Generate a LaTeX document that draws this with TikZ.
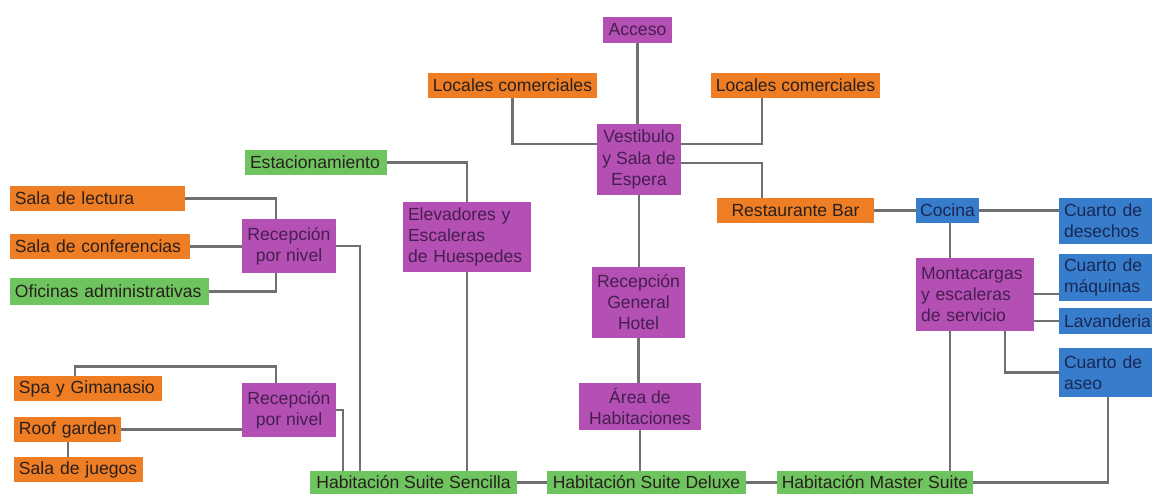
\documentclass[tikz,border=0pt]{standalone}
\usepackage{fontspec}
\setmainfont{Liberation Sans}
\definecolor{cor}{RGB}{238,125,35}
\definecolor{cpu}{RGB}{180,80,180}
\definecolor{cgr}{RGB}{110,196,94}
\definecolor{cbl}{RGB}{55,125,203}
\definecolor{lc}{RGB}{112,112,112}
\definecolor{tdark}{RGB}{40,32,30}
\definecolor{tpu}{RGB}{70,30,80}
\definecolor{tbl}{RGB}{25,40,85}
\newcommand\bx[7]{%
  \pgfmathsetlengthmacro\bxw{(#4-#2)*0.02cm}%
  \pgfmathsetlengthmacro\bxh{(#5-#3)*0.02cm}%
  \node[#6, align=center, minimum width=\bxw, minimum height=\bxh] (#1) at ({(#2+#4)/2},{(#3+#5)/2}) {#7};}
\newcommand\lbx[7]{%
  \pgfmathsetlengthmacro\bxw{(#4-#2)*0.02cm-0.2cm}%
  \pgfmathsetlengthmacro\bxh{(#5-#3)*0.02cm}%
  \node[#6, align=left, inner xsep=0.1cm, text width=\bxw, minimum height=\bxh] (#1) at ({(#2+#4)/2},{(#3+#5)/2}) {#7};}
\begin{document}
\begin{tikzpicture}[x=0.02cm,y=-0.02cm,
  box/.style={inner sep=0pt, font=\fontsize{10}{12}\selectfont},
  orb/.style={box, fill=cor, text=tdark},
  pub/.style={box, fill=cpu, text=tpu},
  grb/.style={box, fill=cgr, text=tdark},
  blb/.style={box, fill=cbl, text=tbl},
  conn/.style={draw=lc, line width=1.4pt}]
\fill[white] (0,0) rectangle (1152,495);
\useasboundingbox (0,0) rectangle (1152,495);
% nodes
\bx{acc}{603}{17}{672}{43}{pub}{Acceso}
\bx{locL}{428}{73}{597}{98}{orb}{Locales comerciales}
\bx{locR}{711}{73}{880}{98}{orb}{Locales comerciales}
\bx{vest}{597}{124}{681}{195}{pub}{Vestibulo\\y Sala de\\Espera}
\lbx{est}{245}{150}{387}{175}{grb}{\mbox{Estacionamiento}}
\lbx{elev}{403}{202}{531}{272}{pub}{Elevadores y\\Escaleras\\de Huespedes}
\bx{recgen}{592}{267}{685}{338}{pub}{Recepción\\General\\Hotel}
\bx{area}{579}{383}{701}{430}{pub}{Área de\\Habitaciones}
\bx{senc}{310}{471}{517}{494}{grb}{Habitación Suite Sencilla}
\bx{delx}{547}{471}{746}{494}{grb}{Habitación Suite Deluxe}
\bx{mast}{777}{471}{973}{494}{grb}{Habitación Master Suite}
\bx{rest}{717}{198}{874}{223}{orb}{Restaurante Bar}
\bx{coc}{916}{198}{979}{223}{blb}{Cocina}
\lbx{des}{1059}{198}{1152}{244}{blb}{Cuarto de\\desechos}
\lbx{maq}{1059}{254}{1152}{301}{blb}{Cuarto de\\máquinas}
\lbx{lav}{1059}{308}{1152}{334}{blb}{\mbox{Lavanderia}}
\lbx{aseo}{1059}{348}{1152}{397}{blb}{Cuarto de\\aseo}
\lbx{mont}{916}{258}{1034}{331}{pub}{Montacargas\\y escaleras\\de servicio}
\lbx{lect}{10}{186}{185}{211}{orb}{\mbox{Sala de lectura}}
\lbx{conf}{10}{234}{190}{259}{orb}{\mbox{Sala de conferencias}}
\lbx{ofi}{10}{278}{209}{305}{grb}{\mbox{Oficinas administrativas}}
\bx{recA}{242}{219}{336}{273}{pub}{Recepción\\por nivel}
\lbx{spa}{14}{376}{162}{401}{orb}{\mbox{Spa y Gimanasio}}
\lbx{roof}{14}{417}{121}{442}{orb}{\mbox{Roof garden}}
\lbx{jueg}{14}{457}{143}{482}{orb}{\mbox{Sala de juegos}}
\bx{recB}{242}{383}{336}{437}{pub}{Recepción\\por nivel}
% connectors
\draw[conn] (acc.south) -- (acc.south |- vest.north);
\draw[conn] (locL.south) |- (vest.west |- 0,144);
\draw[conn] (locR.south -| 762,0) |- (vest.east |- 0,144);
\draw[conn] (vest.east |- 0,163) -| (rest.north -| 762,0);
\draw[conn] (est.east) -| (elev.north);
\draw[conn] (elev.south) -- (elev.south |- senc.north);
\draw[conn] (vest.south) -- (vest.south |- recgen.north);
\draw[conn] (recgen.south) -- (recgen.south |- area.north);
\draw[conn] (area.south) -- (area.south |- delx.north);
\draw[conn] (senc.east) -- (delx.west);
\draw[conn] (delx.east) -- (mast.west);
\draw[conn] (rest.east) -- (coc.west);
\draw[conn] (coc.east) -- (coc.east -| des.west);
\draw[conn] (coc.south -| 950,0) -- (mont.north -| 950,0);
\draw[conn] (mont.east |- 0,294) -- (maq.west |- 0,294);
\draw[conn] (mont.east |- lav.west) -- (lav.west);
\draw[conn] (mont.south -| 1005,0) |- (aseo.west);
\draw[conn] (mont.south -| 950,0) -- (mast.north -| 950,0);
\draw[conn] (mast.east) -| (aseo.south -| 1108,0);
\draw[conn] (lect.east) -| (recA.north -| 276,0);
\draw[conn] (conf.east) -- (conf.east -| recA.west);
\draw[conn] (ofi.east) -| (recA.south -| 276,0);
\draw[conn] (recA.east) -| (senc.north -| 360,0);
\draw[conn] (spa.north -| 75,0) -- ++(0,-9) -| (recB.north -| 276,0);
\draw[conn] (roof.east) -- (roof.east -| recB.west);
\draw[conn] (roof.south -| 68,0) -- (jueg.north -| 68,0);
\draw[conn] (recB.east) -| (senc.north -| 343,0);
\end{tikzpicture}
\end{document}
